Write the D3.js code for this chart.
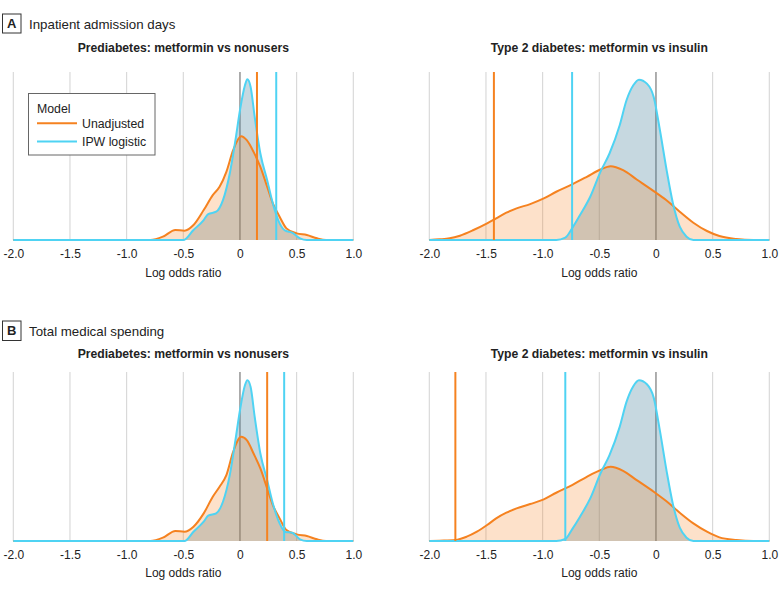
<!DOCTYPE html>
<html>
<head>
<meta charset="utf-8">
<script src="https://cdn.jsdelivr.net/npm/d3@7"></script>
<style>
  body { margin: 0; background: #fff; }
  text { font-family: "Liberation Sans", Arial, sans-serif; fill: #222; }
</style>
</head>
<body>
<svg id="chart" width="780" height="593"></svg>
<script>
// ---------------- DATA ----------------
const sectionLetters = ["A", "B"];
const sectionTitles = ["Inpatient admission days", "Total medical spending"];
const comparisonTitles = ["Prediabetes: metformin vs nonusers", "Type 2 diabetes: metformin vs insulin"];
const modelNames = ["Unadjusted", "IPW logistic"];
const legendTitle = "Model";
const axisTitle = "Log odds ratio";
const xTickValues = [-2, -1.5, -1, -0.5, 0, 0.5, 1];
const xTickLabels = ["-2.0", "-1.5", "-1.0", "-0.5", "0", "0.5", "1.0"];

// Panel A, prediabetes
const aPreUnadjX = [-2, -0.79, -0.68, -0.57, -0.49, -0.41, -0.32, -0.24, -0.18, -0.12, -0.06, 0.01, 0.06, 0.12, 0.18, 0.24, 0.29, 0.35, 0.41, 0.50, 0.59, 0.68, 0.76, 1];
const aPreUnadjDensity = [0, 0, 0.10, 0.30, 0.28, 0.45, 0.90, 1.35, 1.60, 2.05, 2.70, 3.12, 3.00, 2.65, 2.20, 1.60, 1.10, 0.70, 0.35, 0.20, 0.15, 0.05, 0, 0];
const aPreIpwX = [-2, -0.50, -0.41, -0.32, -0.28, -0.21, -0.15, -0.09, -0.04, 0, 0.044, 0.065, 0.094, 0.13, 0.18, 0.24, 0.29, 0.35, 0.40, 0.46, 0.53, 0.59, 1];
const aPreIpwDensity = [0, 0, 0.30, 0.60, 0.78, 0.85, 1.20, 2.00, 3.00, 3.90, 4.65, 4.83, 4.60, 3.70, 2.60, 1.80, 1.10, 0.50, 0.28, 0.22, 0.05, 0, 0];

// Panel A, type 2 diabetes
const aT2dUnadjX = [-2, -1.91, -1.82, -1.73, -1.61, -1.49, -1.41, -1.32, -1.23, -1.11, -0.99, -0.88, -0.74, -0.61, -0.49, -0.40, -0.29, -0.17, -0.02, 0.09, 0.21, 0.33, 0.45, 0.56, 0.71, 0.86, 1];
const aT2dUnadjDensity = [0, 0.02, 0.05, 0.13, 0.30, 0.50, 0.65, 0.82, 0.95, 1.08, 1.25, 1.45, 1.67, 1.90, 2.12, 2.22, 2.10, 1.82, 1.47, 1.20, 0.85, 0.52, 0.27, 0.12, 0.03, 0, 0];
const aT2dIpwX = [-2, -0.88, -0.80, -0.74, -0.67, -0.58, -0.49, -0.41, -0.32, -0.26, -0.20, -0.15, -0.08, -0.02, 0.035, 0.094, 0.15, 0.21, 0.27, 0.33, 1];
const aT2dIpwDensity = [0, 0, 0.07, 0.35, 0.75, 1.30, 2.05, 2.60, 3.45, 4.20, 4.65, 4.82, 4.70, 4.30, 3.30, 2.10, 1.10, 0.40, 0.10, 0, 0];

// Panel B, prediabetes
const bPreUnadjX = [-2, -0.79, -0.68, -0.57, -0.49, -0.41, -0.32, -0.24, -0.18, -0.12, -0.06, 0.01, 0.06, 0.12, 0.18, 0.24, 0.29, 0.35, 0.41, 0.50, 0.59, 0.68, 0.76, 1];
const bPreUnadjDensity = [0, 0, 0.10, 0.30, 0.28, 0.43, 0.83, 1.33, 1.63, 1.98, 2.68, 3.13, 3.03, 2.63, 2.18, 1.58, 1.08, 0.68, 0.33, 0.20, 0.15, 0.05, 0, 0];
const bPreIpwX = [-2, -0.49, -0.41, -0.32, -0.28, -0.21, -0.15, -0.09, -0.04, 0, 0.044, 0.065, 0.094, 0.13, 0.18, 0.24, 0.29, 0.35, 0.40, 0.46, 0.53, 0.59, 1];
const bPreIpwDensity = [0, 0, 0.28, 0.58, 0.76, 0.83, 1.18, 1.98, 3.03, 3.93, 4.68, 4.83, 4.63, 3.73, 2.63, 1.83, 1.13, 0.53, 0.27, 0.25, 0.05, 0, 0];

// Panel B, type 2 diabetes
const bT2dUnadjX = [-2, -1.91, -1.77, -1.67, -1.58, -1.49, -1.41, -1.32, -1.23, -1.11, -0.99, -0.88, -0.74, -0.61, -0.49, -0.40, -0.29, -0.17, -0.02, 0.09, 0.21, 0.33, 0.45, 0.56, 0.71, 0.86, 1];
const bT2dUnadjDensity = [0, 0.01, 0.03, 0.13, 0.28, 0.48, 0.68, 0.85, 0.98, 1.11, 1.25, 1.45, 1.68, 1.93, 2.13, 2.23, 2.11, 1.83, 1.48, 1.20, 0.85, 0.53, 0.28, 0.11, 0.03, 0, 0];
const bT2dIpwX = [-2, -0.88, -0.80, -0.74, -0.67, -0.58, -0.49, -0.41, -0.32, -0.26, -0.20, -0.15, -0.08, -0.02, 0.035, 0.094, 0.15, 0.21, 0.27, 0.33, 1];
const bT2dIpwDensity = [0, 0, 0.06, 0.35, 0.73, 1.28, 2.03, 2.58, 3.43, 4.18, 4.65, 4.83, 4.71, 4.31, 3.31, 2.10, 1.10, 0.40, 0.10, 0, 0];

// Vertical reference lines (estimates), panel order: A-pre, A-t2d, B-pre, B-t2d
const unadjustedEstimates = [0.15, -1.43, 0.24, -1.77];
const ipwEstimates = [0.32, -0.74, 0.39, -0.80];

// ---------------- LAYOUT / STYLE ----------------
const colorUnadj = "#F58220";
const colorIpw = "#4FD3F3";
const fillUnadj = "#F58220";
const fillIpw = "#46829A";

const colX = [[13.3, 353.3], [429.3, 769.3]];
const rowY = [[72, 240], [372, 541]];
const rowYMax = [5.05, 5.08];
const headerBaseline = [28.5, 335.8];
const headerBox = [[14, 33], [321, 340.5]];
const subtitleBaseline = [51.5, 357.7];
const axisTitleBaseline = [277, 577];

const zip = (xs, ys) => xs.map((v, i) => [v, ys[i]]);
const panels = [
  { row: 0, col: 0, unadj: zip(aPreUnadjX, aPreUnadjDensity), ipw: zip(aPreIpwX, aPreIpwDensity) },
  { row: 0, col: 1, unadj: zip(aT2dUnadjX, aT2dUnadjDensity), ipw: zip(aT2dIpwX, aT2dIpwDensity) },
  { row: 1, col: 0, unadj: zip(bPreUnadjX, bPreUnadjDensity), ipw: zip(bPreIpwX, bPreIpwDensity) },
  { row: 1, col: 1, unadj: zip(bT2dUnadjX, bT2dUnadjDensity), ipw: zip(bT2dIpwX, bT2dIpwDensity) }
];

const svg = d3.select("#chart");

// Section headers
sectionLetters.forEach((L, r) => {
  const g = svg.append("g");
  g.append("rect").attr("x", 2.5).attr("y", headerBox[r][0]).attr("width", 18.5)
    .attr("height", headerBox[r][1] - headerBox[r][0]).attr("fill", "#fff")
    .attr("stroke", "#333").attr("stroke-width", 1);
  g.append("text").attr("x", 11.75).attr("y", (headerBox[r][0] + headerBox[r][1]) / 2 + 4.6)
    .attr("text-anchor", "middle").attr("font-weight", "bold").attr("font-size", 13).text(L);
  g.append("text").attr("x", 29).attr("y", headerBaseline[r]).attr("font-size", 13.3).text(sectionTitles[r]);
});

panels.forEach((p, i) => {
  const x = d3.scaleLinear().domain([-2, 1]).range(colX[p.col]);
  const y = d3.scaleLinear().domain([0, rowYMax[p.row]]).range([rowY[p.row][1], rowY[p.row][0]]);
  const g = svg.append("g");
  const top = rowY[p.row][0], base = rowY[p.row][1];

  // subtitle
  g.append("text").attr("x", (colX[p.col][0] + colX[p.col][1]) / 2).attr("y", subtitleBaseline[p.row])
    .attr("text-anchor", "middle").attr("font-weight", "bold").attr("font-size", 12.2)
    .text(comparisonTitles[p.col]);

  // grid
  g.selectAll("line.grid").data(xTickValues).join("line")
    .attr("class", "grid")
    .attr("x1", d => x(d)).attr("x2", d => x(d))
    .attr("y1", top).attr("y2", base)
    .attr("stroke", d => d === 0 ? "#8c8c8c" : "#d6d6d6")
    .attr("stroke-width", d => d === 0 ? 1.4 : 1.1);

  const area = d3.area().x(d => x(d[0])).y0(y(0)).y1(d => y(d[1])).curve(d3.curveMonotoneX);
  const line = d3.line().x(d => x(d[0])).y(d => y(d[1])).curve(d3.curveMonotoneX);

  g.append("path").datum(p.ipw).attr("d", area).attr("fill", fillIpw).attr("fill-opacity", 0.31);
  g.append("path").datum(p.unadj).attr("d", area).attr("fill", fillUnadj).attr("fill-opacity", 0.24);
  g.append("path").datum(p.unadj).attr("d", line).attr("fill", "none").attr("stroke", colorUnadj).attr("stroke-width", 2);
  g.append("path").datum(p.ipw).attr("d", line).attr("fill", "none").attr("stroke", colorIpw).attr("stroke-width", 2);

  // estimate lines
  g.append("line").attr("x1", x(unadjustedEstimates[i])).attr("x2", x(unadjustedEstimates[i]))
    .attr("y1", top).attr("y2", base).attr("stroke", colorUnadj).attr("stroke-width", 2);
  g.append("line").attr("x1", x(ipwEstimates[i])).attr("x2", x(ipwEstimates[i]))
    .attr("y1", top).attr("y2", base).attr("stroke", colorIpw).attr("stroke-width", 2);

  // axis
  const ax = g.append("g").attr("transform", `translate(0,${base})`)
    .call(d3.axisBottom(x).tickValues(xTickValues).tickFormat((d, k) => xTickLabels[k]).tickSize(0).tickPadding(9.5));
  ax.select(".domain").remove();
  ax.selectAll("text").attr("font-size", 12).attr("font-family", null).attr("fill", "#222");
  ax.attr("font-family", null).attr("font-size", null);

  g.append("text").attr("x", (colX[p.col][0] + colX[p.col][1]) / 2).attr("y", axisTitleBaseline[p.row])
    .attr("text-anchor", "middle").attr("font-size", 12).text(axisTitle);

  // legend in first panel
  if (i === 0) {
    const lg = svg.append("g");
    lg.append("rect").attr("x", 28.5).attr("y", 93.5).attr("width", 126.5).attr("height", 61.5)
      .attr("fill", "#fff").attr("stroke", "#666").attr("stroke-width", 1);
    lg.append("text").attr("x", 37).attr("y", 113).attr("font-size", 12.3).text(legendTitle);
    const ly = [123.3, 141.5];
    const lc = [colorUnadj, colorIpw];
    modelNames.forEach((m, k) => {
      lg.append("line").attr("x1", 37).attr("x2", 77).attr("y1", ly[k]).attr("y2", ly[k])
        .attr("stroke", lc[k]).attr("stroke-width", 2);
      lg.append("text").attr("x", 82).attr("y", ly[k] + 4.3).attr("font-size", 12.3).text(m);
    });
  }
});
</script>
</body>
</html>
